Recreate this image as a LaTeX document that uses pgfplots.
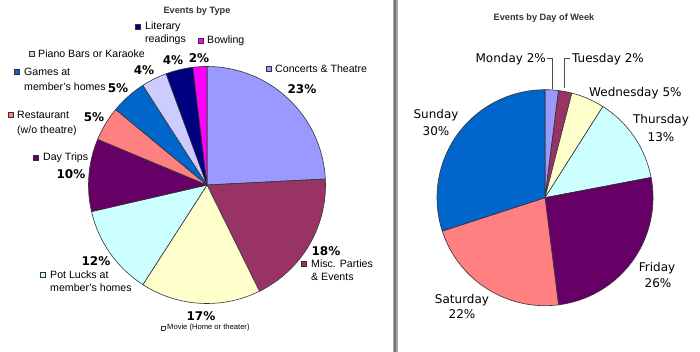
\documentclass[border=0pt]{standalone}
\usepackage{pgfplots}
\pgfplotsset{compat=1.18}
\usepackage{fontspec}
\setmainfont{Liberation Sans}
\newfontfamily\dejavu{DejaVu Sans}

\definecolor{c1}{HTML}{9999FF}
\definecolor{c2}{HTML}{993366}
\definecolor{c3}{HTML}{FFFFCC}
\definecolor{c4}{HTML}{CCFFFF}
\definecolor{c5}{HTML}{660066}
\definecolor{c6}{HTML}{FF8080}
\definecolor{c7}{HTML}{0066CC}
\definecolor{c8}{HTML}{CCCCFF}
\definecolor{c9}{HTML}{000080}
\definecolor{c10}{HTML}{FF00FF}

% slice: cx, cy, r, start (percent), value (percent), colour
\newcommand{\slice}[6]{%
  \filldraw[fill=#6, draw=black!80, line width=0.6pt, line join=round]
    (axis cs:#1,#2) -- (axis cs:{#1+#3*sin(3.6*(#4))},{#2+#3*cos(3.6*(#4))})
    arc[start angle={90-3.6*(#4)}, end angle={90-3.6*((#4)+(#5))}, radius=#3pt] -- cycle;
}
\newcommand{\key}[1]{{\setlength{\fboxsep}{2.4pt}\setlength{\fboxrule}{0.7pt}\fcolorbox{black!80}{#1}{\rule{0pt}{0pt}}}}
\newcommand{\legfont}{\fontsize{10.6}{12}\selectfont}
\newcommand{\pctfont}{\dejavu\bfseries\fontsize{12}{14}\selectfont}
\newcommand{\dayfont}{\dejavu\fontsize{12}{14}\selectfont}

\begin{document}
\begin{tikzpicture}
\begin{axis}[
  x=1pt, y=1pt,
  xmin=0, xmax=700, ymin=0, ymax=352,
  hide axis, clip=false,
  anchor=origin, at={(0pt,0pt)},
]
% separator
\fill[black!35] (axis cs:393,0) rectangle (axis cs:397.5,352);
\fill[black!55] (axis cs:394.2,0) rectangle (axis cs:396.4,352);

% ---------- Events by Type (centre 207,167; r 118.5) ----------
\slice{207}{167}{118.5}{0}{24.2}{c1}      % Concerts & Theatre
\slice{207}{167}{118.5}{24.2}{18.5}{c2}   % Misc. Parties & Events
\slice{207}{167}{118.5}{42.7}{16.4}{c3}   % Movie
\slice{207}{167}{118.5}{59.1}{12.3}{c4}   % Pot Lucks
\slice{207}{167}{118.5}{71.4}{9.9}{c5}    % Day Trips
\slice{207}{167}{118.5}{81.3}{4.7}{c6}    % Restaurant
\slice{207}{167}{118.5}{86.0}{4.9}{c7}    % Games
\slice{207}{167}{118.5}{90.9}{3.5}{c8}    % Piano Bars
\slice{207}{167}{118.5}{94.4}{3.7}{c9}    % Literary
\slice{207}{167}{118.5}{98.1}{1.9}{c10}   % Bowling

\node[font=\bfseries\fontsize{9.2}{11}\selectfont, text=black!80] at (axis cs:197,341) {Events by Type};

% keys and labels
\node[inner sep=0pt] at (axis cs:138,325) {\key{c9}};
\node[anchor=west, inner sep=0pt, font=\legfont] at (axis cs:145,325) {Literary};
\node[anchor=west, inner sep=0pt, font=\legfont] at (axis cs:145,312) {readings};
\node[inner sep=0pt] at (axis cs:201,311) {\key{c10}};
\node[anchor=west, inner sep=0pt, font=\legfont] at (axis cs:207,311) {Bowling};
\node[inner sep=0pt] at (axis cs:32,298) {\key{c8}};
\node[anchor=west, inner sep=0pt, font=\legfont] at (axis cs:38,298) {Piano Bars or Karaoke};
\node[inner sep=0pt] at (axis cs:17,280) {\key{c7}};
\node[anchor=west, inner sep=0pt, font=\legfont] at (axis cs:24,280) {Games at};
\node[anchor=west, inner sep=0pt, font=\legfont] at (axis cs:24,265) {member's homes};
\node[inner sep=0pt] at (axis cs:11,237) {\key{c6}};
\node[anchor=west, inner sep=0pt, font=\legfont] at (axis cs:17,237) {Restaurant};
\node[anchor=west, inner sep=0pt, font=\legfont] at (axis cs:17,221) {(w/o theatre)};
\node[inner sep=0pt] at (axis cs:36,194) {\key{c5}};
\node[anchor=west, inner sep=0pt, font=\legfont] at (axis cs:43,194) {Day Trips};
\node[inner sep=0pt] at (axis cs:269,283) {\key{c1}};
\node[anchor=west, inner sep=0pt, font=\legfont] at (axis cs:275,283) {Concerts \& Theatre};
\node[inner sep=0pt] at (axis cs:304,88) {\key{c2}};
\node[anchor=west, inner sep=0pt, font=\legfont] at (axis cs:311,88) {Misc. Parties};
\node[anchor=west, inner sep=0pt, font=\legfont] at (axis cs:311,75) {\& Events};
\node[inner sep=0pt] at (axis cs:43,77) {\key{c4}};
\node[anchor=west, inner sep=0pt, font=\legfont] at (axis cs:50,77) {Pot Lucks at};
\node[anchor=west, inner sep=0pt, font=\legfont] at (axis cs:50,64) {member's homes};
\node[inner sep=0pt, scale=0.75] at (axis cs:163,24) {\key{c3}};
\node[anchor=west, inner sep=0pt, font=\fontsize{7.6}{9}\selectfont] at (axis cs:167,24) {Movie (Home or theater)};

% percentages
\node[font=\pctfont] at (axis cs:302,263) {23\%};
\node[font=\pctfont] at (axis cs:326,101) {18\%};
\node[font=\pctfont] at (axis cs:201,36) {17\%};
\node[font=\pctfont] at (axis cs:96,91) {12\%};
\node[font=\pctfont] at (axis cs:71,178) {10\%};
\node[font=\pctfont] at (axis cs:94,235) {5\%};
\node[font=\pctfont] at (axis cs:118,264) {5\%};
\node[font=\pctfont] at (axis cs:144,282) {4\%};
\node[font=\pctfont] at (axis cs:173,292) {4\%};
\node[font=\pctfont] at (axis cs:199,294) {2\%};

% ---------- Events by Day of Week (centre 545,154.3; r 108) ----------
\slice{545}{154.3}{108}{0}{2}{c1}    % Monday
\slice{545}{154.3}{108}{2}{2}{c2}    % Tuesday
\slice{545}{154.3}{108}{4}{5}{c3}    % Wednesday
\slice{545}{154.3}{108}{9}{13}{c4}   % Thursday
\slice{545}{154.3}{108}{22}{26}{c5}  % Friday
\slice{545}{154.3}{108}{48}{22}{c6}  % Saturday
\slice{545}{154.3}{108}{70}{30}{c7}  % Sunday

\node[font=\bfseries\fontsize{9.2}{11}\selectfont, text=black!80] at (axis cs:544,334) {Events by Day of Week};

\draw[black!70, line width=0.6pt] (axis cs:547,294) -- (axis cs:552,294) -- (axis cs:552,263);
\draw[black!70, line width=0.6pt] (axis cs:570,294) -- (axis cs:564.5,294) -- (axis cs:564.5,264);
\node[anchor=east, inner sep=0pt, font=\dayfont] at (axis cs:546,293) {Monday 2\%};
\node[anchor=west, inner sep=0pt, font=\dayfont] at (axis cs:572,293) {Tuesday 2\%};
\node[anchor=west, inner sep=0pt, font=\dayfont] at (axis cs:589,259) {Wednesday 5\%};
\node[font=\dayfont, inner sep=0pt] at (axis cs:661,232) {Thursday};
\node[font=\dayfont, inner sep=0pt] at (axis cs:661,215) {13\%};
\node[font=\dayfont, inner sep=0pt] at (axis cs:657,84) {Friday};
\node[font=\dayfont, inner sep=0pt] at (axis cs:658,69) {26\%};
\node[font=\dayfont, inner sep=0pt] at (axis cs:462,52) {Saturday};
\node[font=\dayfont, inner sep=0pt] at (axis cs:462,38) {22\%};
\node[font=\dayfont, inner sep=0pt] at (axis cs:436,237) {Sunday};
\node[font=\dayfont, inner sep=0pt] at (axis cs:436,221) {30\%};
\end{axis}
\pgfresetboundingbox
\path[use as bounding box] (0pt,0pt) rectangle (700pt,352pt);
\end{tikzpicture}
\end{document}
